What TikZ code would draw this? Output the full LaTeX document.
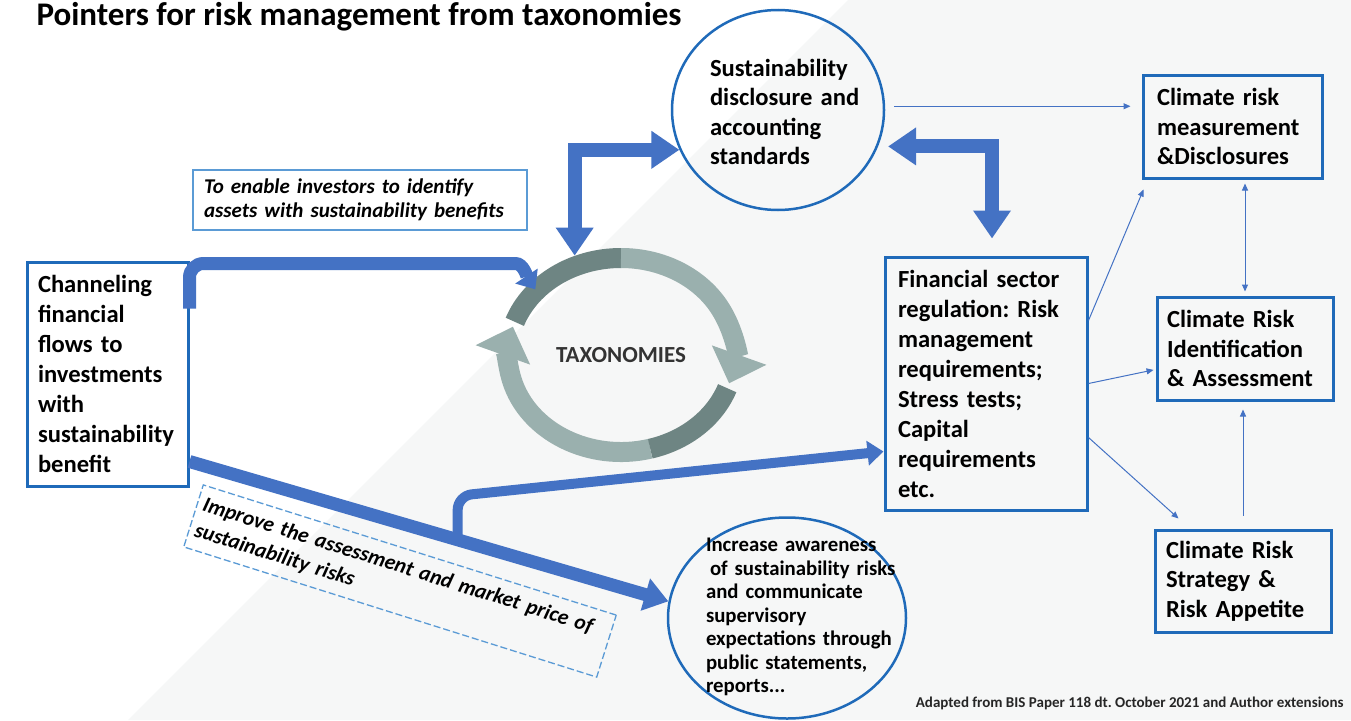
\documentclass[tikz,border=0pt]{standalone}
\usepackage{fontspec}
\setmainfont{Carlito}
\usetikzlibrary{arrows.meta,shapes.geometric}
\frenchspacing

\definecolor{boxblue}{HTML}{1F6AB9}
\definecolor{flowblue}{HTML}{4472C4}
\definecolor{lineblue}{HTML}{5B9BD5}
\definecolor{taxlight}{HTML}{9AB0AE}
\definecolor{taxdark}{HTML}{6E8583}
\definecolor{bgshade}{HTML}{F6F7F7}

\begin{document}
\begin{tikzpicture}[x=1pt,y=-1pt,
  box/.style={draw=boxblue,line width=3pt,align=left,inner ysep=0pt,
    font=\bfseries\fontsize{24.6}{30}\selectfont},
  bubble/.style={ellipse,draw=boxblue,line width=2.5pt,inner sep=0pt},
  bubbletext/.style={align=left,inner sep=0pt},
  notebox/.style={draw=lineblue,line width=1.3pt,align=left,inner ysep=0pt,
    font=\bfseries\itshape\fontsize{21}{24}\selectfont},
  flow/.style={draw=flowblue,line width=13pt},
  lshape/.style={draw=flowblue,line width=14pt,line join=miter,
    arrows={Triangle[width=36pt,length=28pt]-Triangle[width=36pt,length=28pt]}},
  thinflow/.style={draw=flowblue,line width=1pt,
    arrows={-Triangle[width=6pt,length=7pt]}},
  ring/.style={line width=20pt}
]

  % background
  \useasboundingbox (0,0) rectangle (1351,720);
  \fill[white] (0,0) rectangle (1351,720);
  \fill[bgshade] (128,720) -- (848,0) -- (1351,0) -- (1351,720) -- cycle;

  % title and source
  \node[anchor=base west,font=\bfseries\fontsize{33}{33}\selectfont]
    (title) at (33,25) {Pointers for risk management from taxonomies};
  \node[anchor=base east,font=\bfseries\fontsize{15}{15}\selectfont,text=black!85]
    (source) at (1347,707)
    {Adapted from BIS Paper 118 dt. October 2021 and Author extensions};

  % taxonomies cycle
  \coordinate (taxc) at (621,355);
  \draw[ring,taxlight,arrows={-Triangle[width=56pt,length=30pt]}]
    ([shift={(75:113 and 97)}]taxc)
    arc[start angle=75,end angle=197,x radius=113,y radius=97];
  \draw[ring,taxdark]
    ([shift={(20:113 and 97)}]taxc)
    arc[start angle=20,end angle=75,x radius=113,y radius=97];
  \draw[ring,taxdark]
    ([shift={(200:113 and 97)}]taxc)
    arc[start angle=200,end angle=270,x radius=113,y radius=97];
  \draw[ring,taxlight,arrows={-Triangle[width=56pt,length=30pt]}]
    ([shift={(270:113 and 97)}]taxc)
    arc[start angle=270,end angle=377,x radius=113,y radius=97];
  \node[ellipse,minimum width=246pt,minimum height=214pt,inner sep=0pt,
    text=black!80,font=\bfseries\fontsize{23}{23}\selectfont]
    (tax) at (taxc) {TAXONOMIES};

  % boxes
  \node[box,minimum width=161pt,minimum height=224pt,
    text width=139pt,inner xsep=11pt] (chan) at (107.5,374)
    {Channeling\\financial\\flows to\\investments\\with\\sustainability\\benefit};
  \node[box,minimum width=202pt,minimum height=253pt,
    text width=176pt,inner xsep=13pt] (fin) at (986,383.5)
    {Financial sector\\regulation: Risk\\management\\requirements;\\Stress tests;\\Capital\\requirements\\etc.};
  \node[box,font=\bfseries\fontsize{24.6}{29.5}\selectfont,
    minimum width=179pt,minimum height=103pt,
    text width=151pt,inner xsep=14pt] (meas) at (1232.5,126.5)
    {Climate risk\\measurement\\\&Disclosures};
  \node[box,font=\bfseries\fontsize{24.6}{29.5}\selectfont,
    minimum width=176pt,minimum height=103pt,
    text width=156pt,inner xsep=10pt] (ident) at (1245,348.5)
    {Climate Risk\\Identification\\\& Assessment};
  \node[box,font=\bfseries\fontsize{24.6}{29.5}\selectfont,
    minimum width=176pt,minimum height=102pt,
    text width=154pt,inner xsep=11pt] (strat) at (1243,581)
    {Climate Risk\\Strategy \&\\Risk Appetite};

  % circles
  \node[bubble,minimum width=212pt,minimum height=200pt] (sust) at (778,110) {};
  \node[bubbletext,text width=150pt,
    font=\bfseries\fontsize{24.6}{29.5}\selectfont] (susttext) at (785,112)
    {Sustainability\\disclosure and\\accounting\\standards};
  \node[bubble,minimum width=238pt,minimum height=201pt] (aware) at (787,618) {};
  \node[bubbletext,text width=190pt,
    font=\bfseries\fontsize{20.8}{23.5}\selectfont] (awaretext) at (801,617)
    {Increase awareness\\\hspace*{4pt}of sustainability risks\\and communicate\\supervisory\\expectations through\\public statements,\\reports...};

  % notes
  \node[notebox,minimum width=334pt,minimum height=60pt,
    text width=312pt,inner xsep=11pt] (enable) at (360,200)
    {To enable investors to identify\\assets with sustainability benefits};
  \node[notebox,dash pattern=on 7pt off 3pt,rotate=-17.5,
    font=\bfseries\itshape\fontsize{21.5}{27}\selectfont,
    minimum width=433pt,minimum height=65pt,
    text width=421pt,inner xsep=6pt] (improve) at (400,581)
    {Improve the assessment and market price of\\sustainability risks};

  % thick flows
  \draw[lshape] (tax.115) |- (sust.202);
  \draw[lshape,shorten <=10pt,shorten >=17pt] (sust.-20) -| ([xshift=6pt]fin.north);

  \draw[flow,arrows={-Triangle[width=26pt,length=16pt]}]
    ([yshift=-48pt]chan.north east) [rounded corners=14pt] -- ++(0,-45)
    -- ++(312,0) [sharp corners]
    .. controls +(22,0) and +(-8,-12) .. ([xshift=6pt,yshift=-6pt]tax.142);

  \draw[flow,arrows={-Triangle[width=32pt,length=24pt]}]
    ([yshift=26pt]chan.south east) -- coordinate[pos=0.56] (fork) (aware.172);
  \draw[flow,line width=10pt,rounded corners=14pt,
    arrows={-Triangle[width=24pt,length=16pt]}]
    (fork) -- ++(0,-44) -- ([yshift=-68pt]fin.west);

  % thin flows
  \draw[thinflow,shorten <=9pt,shorten >=11pt] (sust.2) -- (sust.2 -| meas.west);
  \draw[thinflow] ([yshift=-65pt]fin.north east)
    -- ([xshift=2pt,yshift=-10pt]meas.south west);
  \draw[thinflow,shorten >=2pt] (fin.east) -- ([yshift=-21pt]ident.west);
  \draw[thinflow] ([yshift=-54pt]fin.east)
    -- ([xshift=25pt,yshift=10pt]strat.north west);
  \draw[thinflow,arrows={Triangle[width=6pt,length=7pt]-Triangle[width=6pt,length=7pt]},
    shorten <=4pt,shorten >=4pt] (ident.north |- meas.south) -- (ident.north);
  \draw[thinflow,shorten <=13pt,shorten >=8pt] (strat.north) -- (strat.north |- ident.south);

\end{tikzpicture}
\end{document}
